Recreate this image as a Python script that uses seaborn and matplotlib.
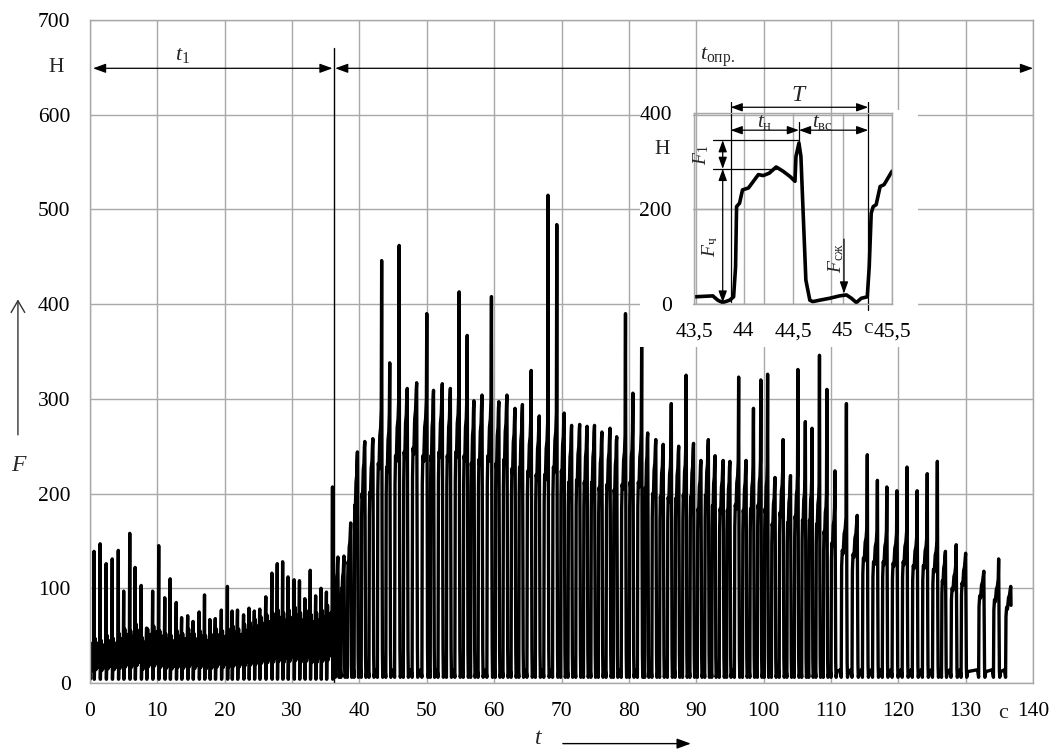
import numpy as np
import pandas as pd
import matplotlib
matplotlib.use("Agg")
import matplotlib.pyplot as plt
from matplotlib.patches import Rectangle
import seaborn as sns

# ---------------- data ----------------
# Region 1 (0..36 s): time of each tall spike, spike height, height of the dense humps
a_t = [0.6, 1.5, 2.4, 3.3, 4.2, 5.0, 5.9, 6.7, 7.6, 8.4, 9.3, 10.2, 11.1, 11.9, 12.8,
       13.6, 14.5, 15.3, 16.2, 17.0, 17.8, 18.6, 19.5, 20.4, 21.1, 21.9, 22.8, 23.6,
       24.4, 25.2, 26.1, 27.0, 27.8, 28.6, 29.4, 30.3, 31.1, 31.9, 32.7, 33.5, 34.3,
       35.1, 36.0]
a_spike = [139, 147, 126, 131, 140, 97, 158, 122, 103, 58, 97, 145, 90, 110, 85,
           69, 71, 65, 75, 93, 67, 68, 77, 102, 76, 77, 72, 79, 76, 78, 91, 116,
           126, 128, 112, 109, 108, 89, 119, 92, 100, 96, 207]
a_hump = [42, 47, 45, 50, 47, 52, 57, 55, 62, 48, 57, 60, 55, 52, 50, 55, 52, 57,
          52, 55, 50, 52, 57, 55, 57, 60, 57, 62, 64, 67, 70, 72, 74, 77, 74, 77,
          80, 74, 77, 72, 74, 77, 82]
a_low = 4

# Region 2 (36.8..137 s): time of each cycle's peak, peak value, plateau value
b_t = [36.8, 37.7, 38.7, 39.7, 40.8, 42.0, 43.3, 44.5, 45.9, 47.1, 48.5, 50.0, 51.0,
       52.3, 53.5, 54.8, 56.0, 57.0, 58.2, 59.6, 60.7, 61.9, 63.1, 64.2, 65.5, 66.7,
       68.0, 69.3, 70.4, 71.5, 72.7, 73.8, 74.9, 76.0, 77.2, 78.2, 79.5, 80.6, 81.9,
       82.8, 84.0, 85.1, 86.3, 87.4, 88.5, 89.6, 90.7, 91.8, 92.8, 94.0, 95.0, 96.3,
       97.4, 98.5, 99.6, 100.6, 101.7, 102.9, 104.0, 105.1, 106.2, 107.2, 108.3,
       109.4, 110.6, 112.3, 113.9, 115.4, 116.9, 118.3, 119.8, 121.3, 122.8, 124.3,
       125.8, 127.0, 128.6, 130.0, 132.7, 134.9, 136.7]
b_peak = [133, 134, 169, 244, 255, 258, 446, 338, 462, 311, 317, 390, 309, 316, 311,
          413, 367, 298, 304, 408, 297, 304, 290, 294, 330, 282, 515, 484, 285, 272,
          273, 271, 272, 265, 269, 260, 390, 306, 356, 264, 257, 252, 295, 250, 325,
          253, 235, 257, 240, 235, 234, 323, 235, 290, 320, 326, 217, 257, 219, 331,
          276, 269, 346, 310, 224, 295, 177, 241, 214, 207, 203, 228, 203, 221, 234,
          139, 146, 137, 118, 131, 102]
b_plat = [125, 125, 160, 235, 250, 252, 290, 285, 300, 305, 310, 300, 300, 305, 300,
          305, 300, 290, 295, 300, 290, 295, 283, 285, 280, 275, 275, 285, 280, 265,
          268, 265, 265, 258, 262, 255, 262, 265, 265, 258, 250, 246, 245, 244, 248,
          246, 230, 248, 234, 230, 228, 235, 228, 230, 235, 230, 210, 225, 212, 220,
          215, 215, 210, 200, 185, 175, 170, 165, 160, 160, 158, 160, 155, 155, 150,
          135, 125, 132, 115, 110, 100]
b_low = 6
end_value = 82

# Inset: one cycle, 43.5..45.5 s
ins_t = [43.5, 43.69, 43.74, 43.79, 43.86, 43.9, 43.92, 43.93, 43.96, 43.99, 44.05,
         44.10, 44.15, 44.2, 44.26, 44.33, 44.40, 44.47, 44.52, 44.53, 44.56, 44.58,
         44.60, 44.63, 44.67, 44.70, 44.77, 44.87, 44.97, 45.04, 45.09, 45.14, 45.19,
         45.25, 45.27, 45.29, 45.31, 45.34, 45.38, 45.42, 45.46, 45.5]
ins_f = [15, 17, 8, 3, 8, 15, 78, 204, 211, 239, 243, 257, 271, 269, 274, 287, 278,
         267, 257, 309, 337, 309, 204, 50, 8, 5, 8, 12, 17, 19, 12, 3, 12, 15, 78,
         190, 204, 208, 246, 250, 264, 278]

x_ticks = list(range(0, 141, 10))
y_ticks = list(range(0, 701, 100))
ins_xticks = [43.5, 44.0, 44.5, 45.0, 45.5]
ins_xlabels = ["43,5", "44", "44,5", "45", "45,5"]
ins_yticks = [0, 200, 400]

# ---------------- build line vertices from the read values ----------------
T, F = [0.0], [20.0]
prev = 0.0
for t, s, h in zip(a_t, a_spike, a_hump):
    P = t - prev
    for ft, fv in [(-0.95, a_low), (-0.82, h), (-0.68, 0.3 * h), (-0.55, 0.85 * h),
                   (-0.42, 0.35 * h), (-0.28, 0.9 * h), (-0.16, 0.5 * h),
                   (-0.05, h)]:
        T.append(t + ft * P); F.append(fv)
    T.append(t); F.append(s)
    T.append(t + 0.03 * P); F.append(a_low)
    prev = t
for t, pk, pl in zip(b_t, b_peak, b_plat):
    P = t - prev
    rs = t - 0.47 * min(P, 1.6)
    dur = t - rs
    pts = [(rs - 0.25 * dur, b_low + 8), (rs - 0.02, b_low),
           (rs + 0.04, 0.7 * pl), (rs + 0.18 * dur, 0.8 * pl),
           (rs + 0.35 * dur, 0.78 * pl), (rs + 0.55 * dur, 0.9 * pl),
           (rs + 0.75 * dur, 0.93 * pl), (t - 0.06, pl), (t, pk),
           (t + 0.06, 0.55 * pl), (t + 0.11, 0.12 * pl), (t + 0.16, b_low),
           (t + 0.3, b_low + 6)]
    for tt, fv in pts:
        T.append(tt); F.append(fv)
    prev = t
T[-4:] = [b_t[-1] + 0.04]; F[-4:] = [end_value]
df = pd.DataFrame({"t": T, "F": F})
dins = pd.DataFrame({"t": ins_t, "F": ins_f})

# ---------------- style ----------------
sns.set_theme(style="white")
plt.rcParams['font.family'] = ['Liberation Serif', 'DejaVu Serif']
plt.rcParams['mathtext.fontset'] = 'custom'
plt.rcParams['mathtext.rm'] = 'Liberation Serif'
plt.rcParams['mathtext.it'] = 'Liberation Serif:italic'
plt.rcParams['mathtext.bf'] = 'Liberation Serif:bold'

GRID = '#a8a8a8'
W, H = 1053, 751
fig = plt.figure(figsize=(W / 100, H / 100), dpi=100)
ax = fig.add_axes([90 / W, 1 - 683 / H, 943 / W, 663 / H])
ax.set_zorder(0)

sns.lineplot(data=df, x="t", y="F", sort=False, estimator=None, color="black",
             lw=2.4, ax=ax, legend=False)
ax.set_xlim(0, 140)
ax.set_ylim(0, 700)
ax.set_xticks(x_ticks)
ax.set_yticks(y_ticks)
ax.set_xlabel("")
ax.set_ylabel("")
ax.grid(True, color=GRID, lw=1.0)
ax.set_axisbelow(True)
for s in ax.spines.values():
    s.set_color(GRID)
    s.set_linewidth(1.0)
ax.tick_params(direction='out', length=5, width=1, color=GRID, labelsize=15.5,
               pad=9, labelcolor='black')

# annotations in main chart
arrow2 = dict(arrowstyle='<|-|>,head_length=0.55,head_width=0.2', color='black',
              lw=0.9, shrinkA=0, shrinkB=0, mutation_scale=14)
ax.annotate('', xy=(0.45, 649), xytext=(36.0, 649), arrowprops=arrow2,
            annotation_clip=False)
ax.annotate('', xy=(36.4, 649), xytext=(140.0, 649), arrowprops=arrow2,
            annotation_clip=False)
ax.plot([36.25, 36.25], [0, 670], color='black', lw=1.0)
ax.text(13.8, 663, r"$t_{1}$", fontsize=16, ha='center', va='center')
ax.text(90.5, 661, r"$t_{\mathrm{опр.}}$", fontsize=16, ha='left', va='center')
ax.text(-5.1, 650, "Н", fontsize=15.5, ha='center', va='center', clip_on=False)
ax.text(135.5, -32, "с", fontsize=16, ha='center', va='center', clip_on=False)
ax.annotate('', xy=(-10.7, 405), xytext=(-10.7, 262),
            arrowprops=dict(arrowstyle='->,head_length=0.6,head_width=0.35',
                            color='#333333', lw=1.0, shrinkA=0, shrinkB=0,
                            mutation_scale=14), annotation_clip=False)
ax.text(-10.7, 230, "F", fontsize=17, style='italic', ha='center', va='center',
        clip_on=False)
ax.text(66.5, -59, "t", fontsize=17, style='italic', ha='center', va='center',
        clip_on=False)
ax.annotate('', xy=(89.2, -64), xytext=(70.2, -64),
            arrowprops=dict(arrowstyle='-|>,head_length=0.6,head_width=0.22',
                            color='black', lw=1.0, shrinkA=0, shrinkB=0,
                            mutation_scale=14), annotation_clip=False)

# white patches that the inset's labels sit on
for (x0, y0, x1, y1) in [(640, 100, 693, 347), (640, 305, 918, 347),
                         (893, 110, 918, 347)]:
    fig.add_artist(Rectangle((x0 / W, 1 - y1 / H), (x1 - x0) / W, (y1 - y0) / H,
                             transform=fig.transFigure, facecolor='white',
                             edgecolor='none', zorder=0.5))

# ---------------- inset ----------------
axi = fig.add_axes([694 / W, 1 - 304 / H, 198 / W, 191 / H])
axi.set_zorder(1)
axi.patch.set_alpha(0)
sns.lineplot(data=dins, x="t", y="F", sort=False, estimator=None, color="black",
             lw=2.6, ax=axi, legend=False)
axi.set_xlim(43.5, 45.5)
axi.set_ylim(0, 400)
axi.set_xticks(ins_xticks)
axi.set_xticklabels(ins_xlabels)
axi.set_yticks(ins_yticks)
axi.set_xlabel("")
axi.set_ylabel("")
axi.grid(True, color=GRID, lw=1.0)
axi.set_axisbelow(True)
for s in axi.spines.values():
    s.set_color(GRID)
    s.set_linewidth(1.0)
axi.tick_params(direction='out', length=4, width=1, color=GRID, labelsize=15.5,
                pad=9, labelcolor='black')
axi.tick_params(axis='y', pad=12)
axi.text(43.18, 323, "Н", fontsize=15.5, ha='center', va='center', clip_on=False)
axi.text(45.26, -52, "с", fontsize=15.5, ha='center', va='center', clip_on=False)

k = dict(color='black', lw=0.9, clip_on=False)
axi.plot([43.87, 43.87], [5, 424], **k)
axi.plot([45.26, 45.26], [-13, 424], **k)
axi.plot([44.56, 44.56], [337, 382], **k)
axi.plot([43.69, 44.55], [343, 343], **k)
axi.plot([43.69, 44.33], [283, 283], **k)
arr_i = dict(arrowstyle='<|-|>,head_length=0.5,head_width=0.18', color='black',
             lw=0.9, shrinkA=0, shrinkB=0, mutation_scale=14)
axi.annotate('', xy=(43.87, 412), xytext=(45.26, 412), arrowprops=arr_i,
             annotation_clip=False)
axi.annotate('', xy=(43.87, 364), xytext=(44.56, 364), arrowprops=arr_i,
             annotation_clip=False)
axi.annotate('', xy=(44.56, 364), xytext=(45.26, 364), arrowprops=arr_i,
             annotation_clip=False)
axi.annotate('', xy=(43.79, 343), xytext=(43.79, 283), arrowprops=arr_i,
             annotation_clip=False)
axi.annotate('', xy=(43.79, 283), xytext=(43.79, 3), arrowprops=arr_i,
             annotation_clip=False)
axi.annotate('', xy=(45.015, 22), xytext=(45.015, 136),
             arrowprops=dict(arrowstyle='-|>,head_length=0.5,head_width=0.18',
                             color='black', lw=0.9, shrinkA=0, shrinkB=0,
                             mutation_scale=14), annotation_clip=False)
axi.text(44.55, 436, "T", fontsize=17, style='italic', ha='center', va='center',
         clip_on=False)
axi.text(44.21, 381, r"$t_{\mathrm{н}}$", fontsize=15, ha='center', va='center')
axi.text(44.80, 381, r"$t_{\mathrm{вс}}$", fontsize=15, ha='center', va='center')
axi.text(43.57, 313, r"$F_{1}$", fontsize=14, rotation=90, ha='center', va='center',
         clip_on=False)
axi.text(43.66, 120, r"$F_{\mathrm{ч}}$", fontsize=14, rotation=90, ha='center',
         va='center')
axi.text(44.94, 96, r"$F_{\mathrm{сж}}$", fontsize=14, rotation=90, ha='center',
         va='center')

fig.savefig("out.png", dpi=100)
